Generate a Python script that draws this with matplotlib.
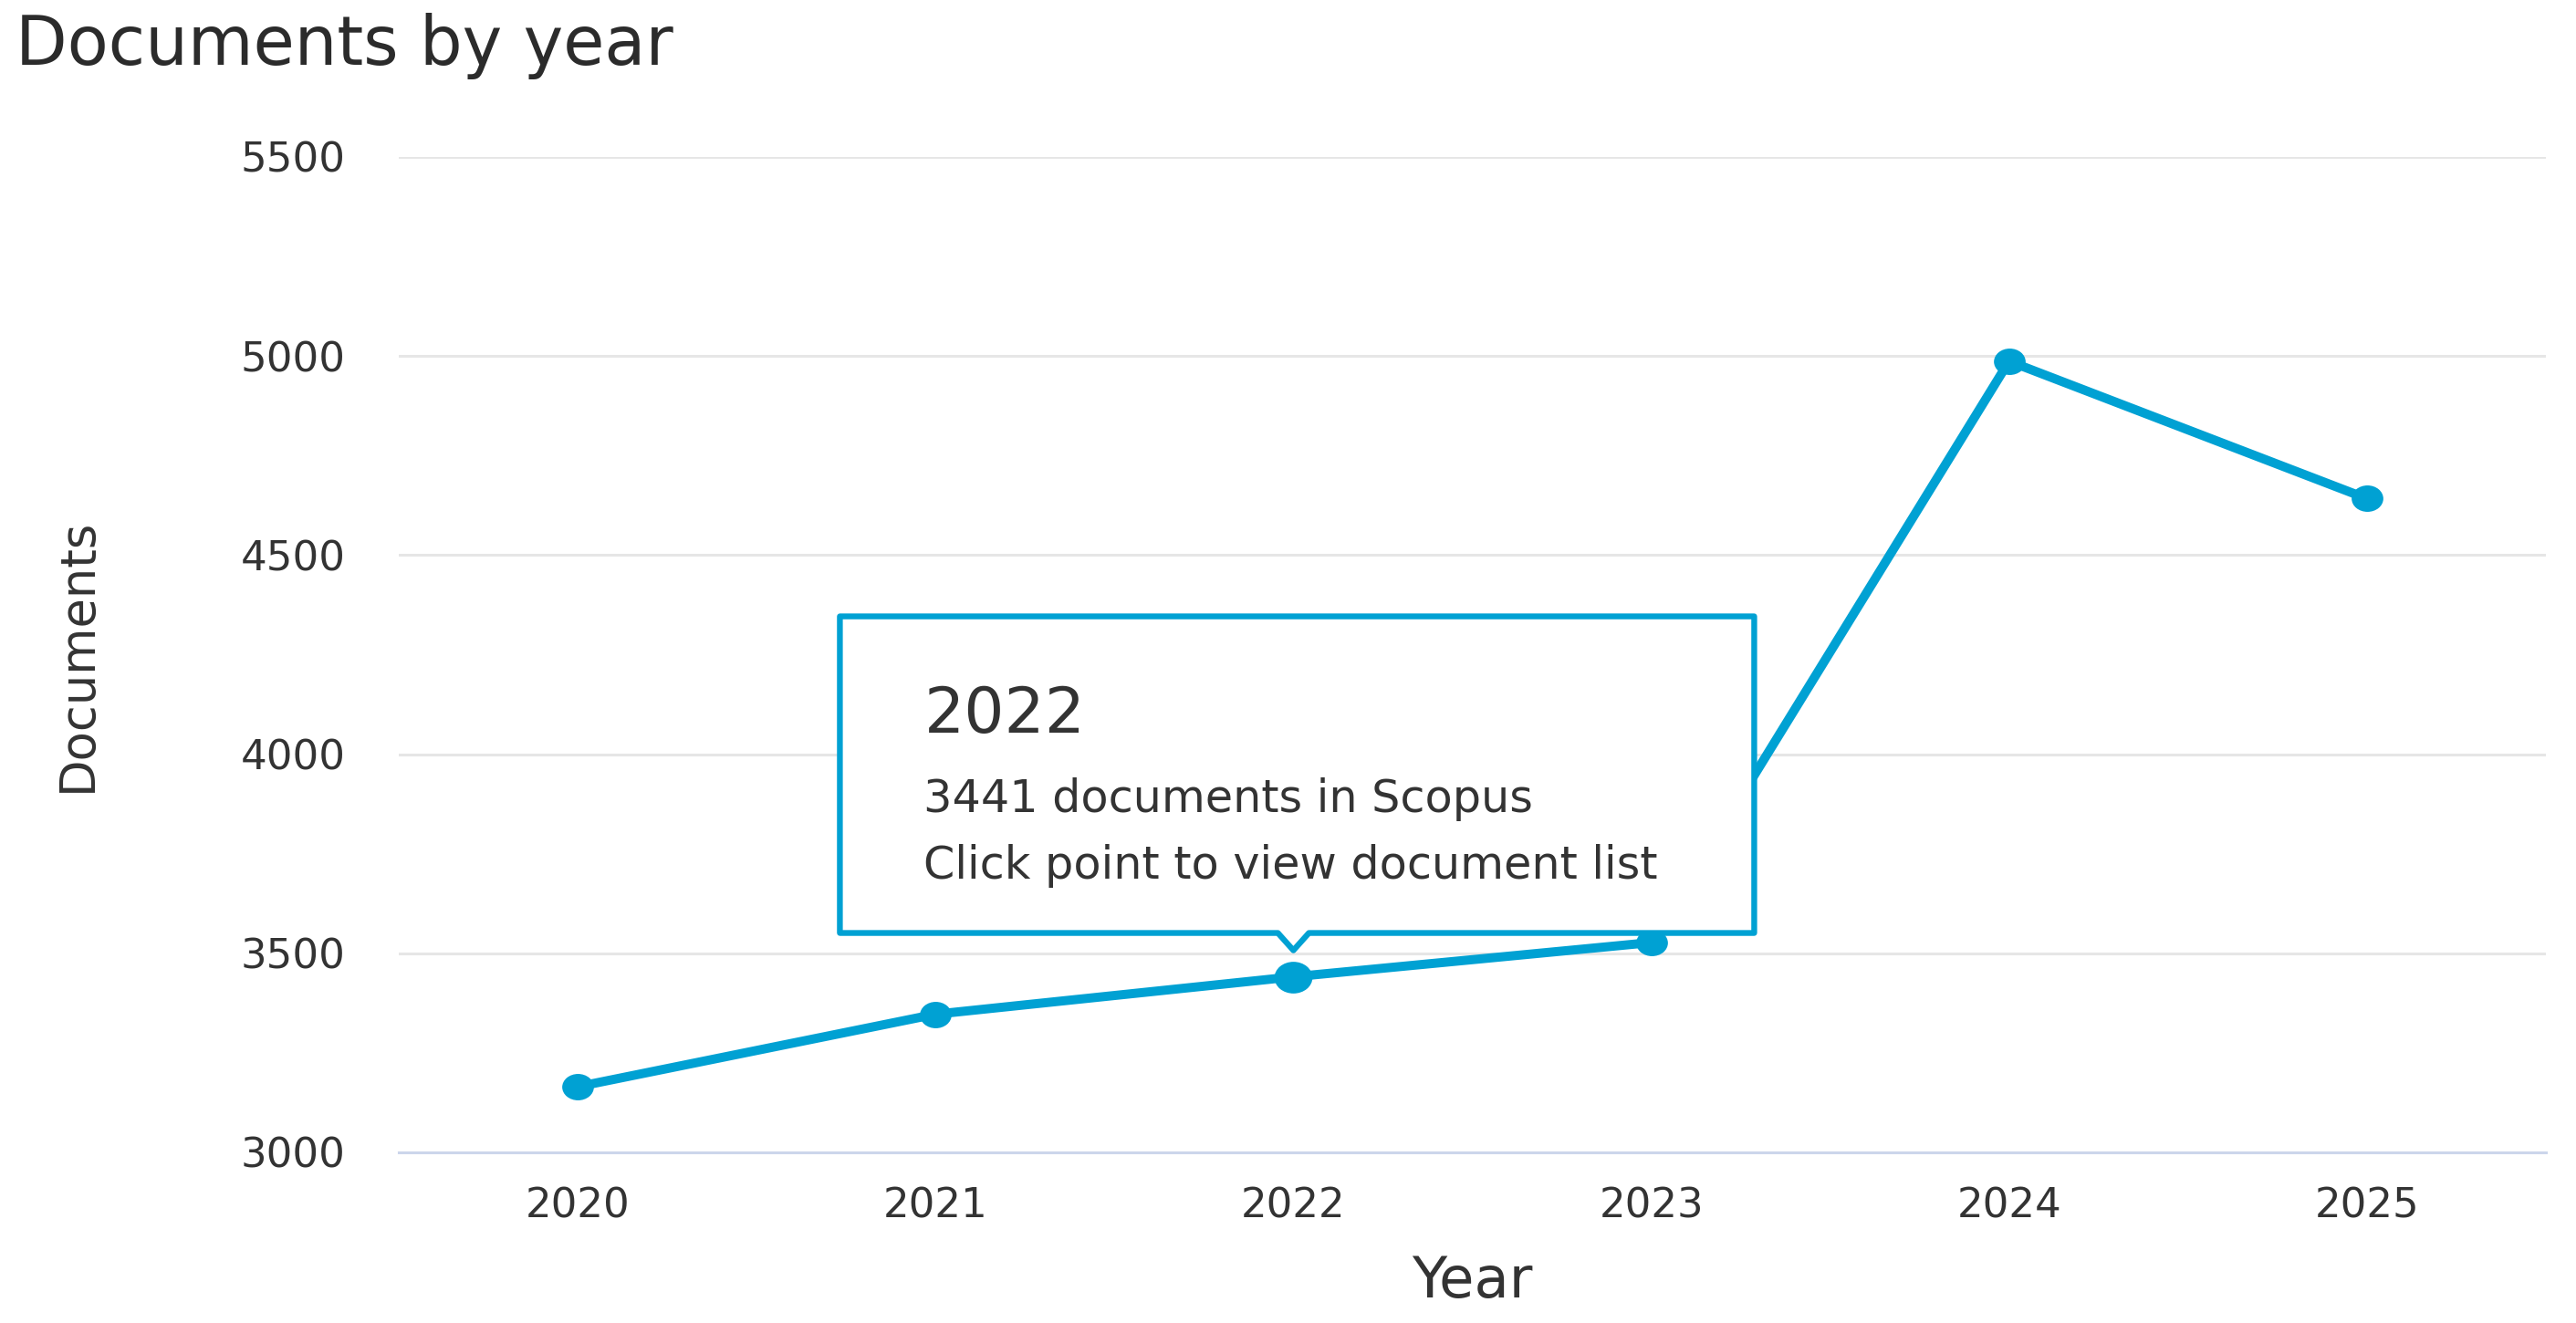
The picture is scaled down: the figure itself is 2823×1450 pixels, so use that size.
import matplotlib
matplotlib.use("Agg")
import matplotlib.pyplot as plt
import matplotlib.transforms as mtransforms
from matplotlib.path import Path
from matplotlib.patches import Polygon

# ---- data ----
years = ["2020", "2021", "2022", "2023", "2024", "2025"]
documents = [3165, 3347, 3441, 3527, 4987, 4642]
y_ticks = [3000, 3500, 4000, 4500, 5000, 5500]
hover_year = "2022"
hover_value = 3441

title = "Documents by year"
x_label = "Year"
y_label = "Documents"
tip_lines = ["3441 documents in Scopus", "Click point to view document list"]

LINE = "#00a1d3"
TEXT = "#333333"

plt.rcParams["font.family"] = ["DejaVu Sans"]

W, H = 2823, 1450
fig = plt.figure(figsize=(W / 100, H / 100), dpi=100)
ax = fig.add_axes([437 / W, 1 - 1263 / H, (2790 - 437) / W, (1263 - 172) / H])

# ellipse marker (reference is horizontally stretched)
ell = Path.unit_circle().transformed(mtransforms.Affine2D().scale(1.2, 1.0))

ax.plot(years, documents, color=LINE, linewidth=7.2, marker=ell,
        markersize=25, markeredgewidth=0, zorder=3, solid_capstyle="round",
        solid_joinstyle="round")
hi = years.index(hover_year)
ax.plot([years[hi]], [hover_value], linestyle="none", marker=ell,
        markersize=30, markeredgewidth=0, color=LINE, zorder=3.1)

ax.set_xlim(-0.5, len(years) - 0.5)
ax.set_ylim(y_ticks[0], y_ticks[-1])
ax.set_yticks(y_ticks)

for s in ["top", "left", "right"]:
    ax.spines[s].set_visible(False)
ax.spines["bottom"].set_color("#ccd6eb")
ax.spines["bottom"].set_linewidth(2.2)
ax.yaxis.grid(True, color="#e6e6e6", linewidth=2.2)
ax.set_axisbelow(True)

ax.tick_params(axis="y", length=0, pad=42, labelsize=32.5, labelcolor=TEXT)
ax.tick_params(axis="x", length=0, pad=27, labelsize=32.5, labelcolor=TEXT)

ax.set_xlabel(x_label, fontsize=45, color=TEXT, va="baseline")
ax.xaxis.set_label_coords(0.5, -(1422 - 1263) / (1263 - 172))
ax.set_ylabel(y_label, fontsize=38, color=TEXT, va="center", ha="center")
ax.yaxis.set_label_coords((85 - 437) / (2790 - 437), 0.5)

fig.text(17 / W, 1 - 71 / H, title, fontsize=53, color="#2b2b2b",
         ha="left", va="baseline")

# ---- tooltip (offsets in pixels from the hovered point) ----
trans = mtransforms.Affine2D() + mtransforms.ScaledTranslation(hi, hover_value, ax.transData)
L, R, T, B = -497, 505, 395, 48
tip, hw = 29, 17
verts = [(L, B), (-hw, B), (0, tip), (hw, B), (R, B), (R, T), (L, T)]
box = Polygon(verts, closed=True, facecolor="white", edgecolor=LINE,
              linewidth=4.6, joinstyle="round", transform=trans, zorder=5,
              clip_on=False)
ax.add_patch(box)

ax.text(-405, 268, hover_year, transform=trans, fontsize=50, color=TEXT,
        ha="left", va="baseline", zorder=6)
ax.text(-405, 181, tip_lines[0], transform=trans, fontsize=35.5, color=TEXT,
        ha="left", va="baseline", zorder=6)
ax.text(-405, 108, tip_lines[1], transform=trans, fontsize=35.5, color=TEXT,
        ha="left", va="baseline", zorder=6)

fig.savefig("out.png", dpi=100, facecolor="white")
